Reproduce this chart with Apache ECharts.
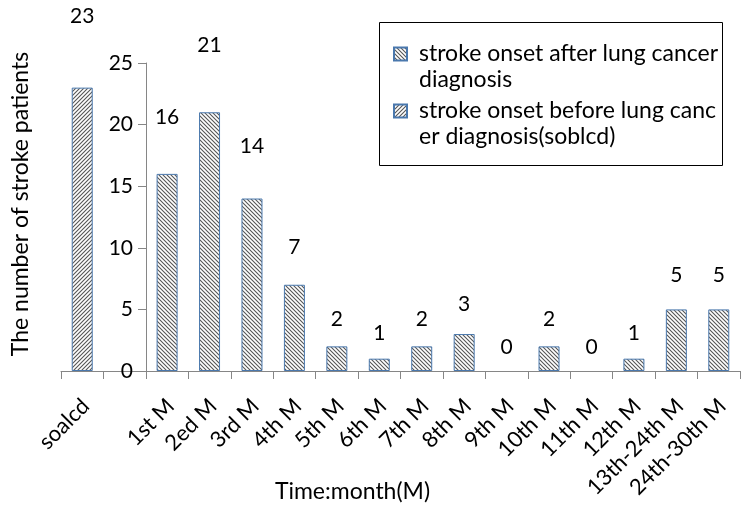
<!DOCTYPE html>
<html>
<head>
<meta charset="utf-8">
<script src="https://cdn.jsdelivr.net/npm/echarts@6/dist/echarts.min.js"></script>
<style>
html,body{margin:0;padding:0;background:#fff;}
#chart{width:748px;height:512px;}
</style>
</head>
<body>
<div id="chart"></div>
<script>
const categories = ['soalcd', '', '1st M', '2ed M', '3rd M', '4th M', '5th M', '6th M', '7th M', '8th M', '9th M', '10th M', '11th M', '12th M', '13th-24th M', '24th-30th M'];
const afterValues = [null, null, 16, 21, 14, 7, 2, 1, 2, 3, 0, 2, 0, 1, 5, 5];
const beforeValues = [23, null, null, null, null, null, null, null, null, null, null, null, null, null, null, null];
const afterName = 'stroke onset after lung cancer diagnosis';
const beforeName = 'stroke onset before lung cancer diagnosis(soblcd)';
const legendText = {};
legendText[afterName] = 'stroke onset after lung cancer\ndiagnosis';
legendText[beforeName] = 'stroke onset before lung canc\ner diagnosis(soblcd)';

const FONT = 'Lato';

function makePattern(down) {
  const s = 4;
  const c = document.createElement('canvas');
  c.width = s; c.height = s;
  const ctx = c.getContext('2d');
  ctx.fillStyle = '#ffffff';
  ctx.fillRect(0, 0, s, s);
  ctx.strokeStyle = '#555555';
  ctx.lineWidth = 1.1;
  ctx.beginPath();
  if (down) {
    for (let k = -s; k <= s; k += s) {
      ctx.moveTo(k - 1, -1);
      ctx.lineTo(k + s + 1, s + 1);
    }
  } else {
    for (let k = -s; k <= s; k += s) {
      ctx.moveTo(k - 1, s + 1);
      ctx.lineTo(k + s + 1, -1);
    }
  }
  ctx.stroke();
  return c;
}

// zero-height bars show no outline
function barData(arr) {
  return arr.map(v => v === 0 ? {value: 0, itemStyle: {borderWidth: 0}} : v);
}

const labelValues = categories.map((_, i) => afterValues[i] != null ? afterValues[i] : (beforeValues[i] != null ? beforeValues[i] : null));

const chart = echarts.init(document.getElementById('chart'), null, {renderer: 'canvas'});
const axisColor = '#868686';
const borderBlue = '#4a78ad';
// legend icon: square on the first text line, bounding box padded to two lines
const legendIcon = 'path://M0,0M20,52M0,6.5L13,6.5L13,19.5L0,19.5Z';

chart.setOption({
  backgroundColor: '#ffffff',
  animation: false,
  grid: {left: 61, right: 8, top: 63, bottom: 141, containLabel: false, outerBoundsMode: 'none'},
  legend: {
    orient: 'vertical',
    left: 393,
    top: 40,
    padding: 0,
    itemGap: 3,
    itemWidth: 20,
    itemHeight: 52,
    icon: legendIcon,
    data: [afterName, beforeName],
    formatter: n => legendText[n],
    textStyle: {fontFamily: FONT, fontSize: 23, lineHeight: 26, color: '#000'},
    selectedMode: false
  },
  graphic: [{
    type: 'rect',
    shape: {x: 379.5, y: 22.5, width: 343, height: 143},
    style: {fill: null, stroke: '#000', lineWidth: 1},
    z: 100
  }],
  xAxis: {
    type: 'category',
    data: categories,
    boundaryGap: true,
    axisLine: {lineStyle: {color: axisColor, width: 1}},
    axisTick: {show: true, interval: 0, alignWithLabel: false, length: 8, lineStyle: {color: axisColor}},
    axisLabel: {interval: 0, rotate: 45, margin: 28, fontSize: 22, lineHeight: 10, fontFamily: FONT, color: '#000', align: 'right', verticalAlign: 'top'},
    splitLine: {show: false},
    name: 'Time:month(M)',
    nameLocation: 'middle',
    nameGap: 109,
    nameMoveOverlap: false,
    nameTextStyle: {fontSize: 23, fontFamily: FONT, color: '#000', padding: [0, 96, 0, 0]}
  },
  yAxis: [{
    type: 'value',
    min: 0, max: 25, interval: 5,
    offset: -85,
    axisLine: {show: true, lineStyle: {color: axisColor, width: 1}},
    axisTick: {show: true, length: 8, lineStyle: {color: axisColor}},
    axisLabel: {fontSize: 21, fontFamily: FONT, color: '#000', margin: 13},
    splitLine: {show: false},
    name: 'The number of stroke patients',
    nameLocation: 'middle',
    nameGap: 114,
    nameMoveOverlap: false,
    nameTextStyle: {fontSize: 23, fontFamily: FONT, color: '#000', padding: [0, 0, 0, 26]}
  }, {
    type: 'value',
    min: -1.63, max: 19.78,
    show: false
  }],
  series: [{
    name: afterName,
    type: 'bar',
    data: barData(afterValues),
    barWidth: 21,
    barGap: '-100%',
    itemStyle: {color: {image: makePattern(true), repeat: 'repeat'}, borderColor: borderBlue, borderWidth: 1}
  }, {
    name: beforeName,
    type: 'bar',
    data: barData(beforeValues),
    barWidth: 21,
    barGap: '-100%',
    itemStyle: {color: {image: makePattern(false), repeat: 'repeat'}, borderColor: borderBlue, borderWidth: 1}
  }, {
    name: 'labels',
    type: 'scatter',
    yAxisIndex: 1,
    data: labelValues,
    symbol: 'circle',
    symbolSize: 0,
    clip: false,
    silent: true,
    itemStyle: {color: '#000', opacity: 1},
    label: {show: true, position: 'inside', formatter: p => String(p.value), fontSize: 21, fontFamily: FONT, color: '#000', textBorderWidth: 0, opacity: 1},
    z: 5
  }]
});
</script>
</body>
</html>
